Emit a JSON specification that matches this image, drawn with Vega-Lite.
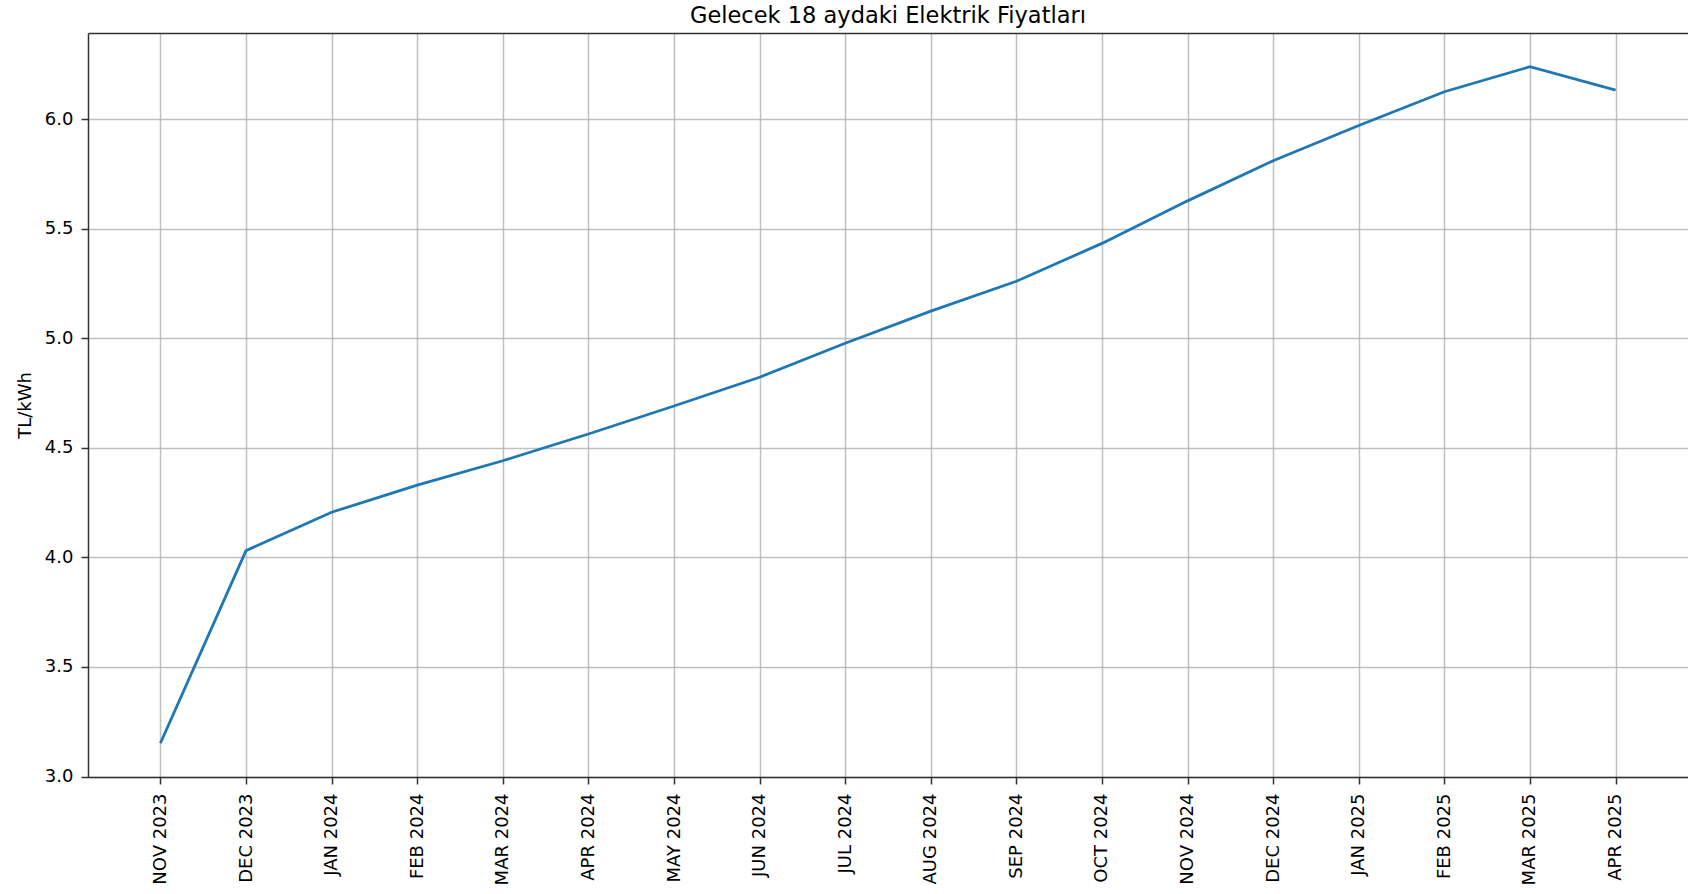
{
  "$schema": "https://vega.github.io/schema/vega-lite/v6.json",
  "autosize": {"type": "none"},
  "width": 1600,
  "height": 744,
  "padding": {"left": 88, "top": 33, "right": 0, "bottom": 117},
  "background": "white",
  "config": {
    "font": "DejaVu Sans",
    "view": {"stroke": null},
    "axis": {
      "labelFont": "DejaVu Sans",
      "titleFont": "DejaVu Sans",
      "labelFontSize": 18,
      "titleFontSize": 18,
      "labelColor": "#000000",
      "titleColor": "#000000",
      "titleFontWeight": "normal",
      "domainColor": "#333333",
      "domainWidth": 1.5,
      "tickColor": "#333333",
      "tickWidth": 1.5,
      "tickSize": 7,
      "gridColor": "#b0b0b0",
      "gridWidth": 1.5,
      "gridOpacity": 0.8
    }
  },
  "title": {
    "text": "Gelecek 18 aydaki Elektrik Fiyatları",
    "font": "DejaVu Sans",
    "fontSize": 22.5,
    "fontWeight": "normal",
    "color": "#000000",
    "anchor": "middle",
    "offset": 6
  },
  "data": {
    "values": [
      {"ay": "NOV 2023", "fiyat": 3.152},
      {"ay": "DEC 2023", "fiyat": 4.031},
      {"ay": "JAN 2024", "fiyat": 4.206},
      {"ay": "FEB 2024", "fiyat": 4.330},
      {"ay": "MAR 2024", "fiyat": 4.441},
      {"ay": "APR 2024", "fiyat": 4.563},
      {"ay": "MAY 2024", "fiyat": 4.691},
      {"ay": "JUN 2024", "fiyat": 4.822},
      {"ay": "JUL 2024", "fiyat": 4.977},
      {"ay": "AUG 2024", "fiyat": 5.124},
      {"ay": "SEP 2024", "fiyat": 5.260},
      {"ay": "OCT 2024", "fiyat": 5.433},
      {"ay": "NOV 2024", "fiyat": 5.627},
      {"ay": "DEC 2024", "fiyat": 5.810},
      {"ay": "JAN 2025", "fiyat": 5.971},
      {"ay": "FEB 2025", "fiyat": 6.125},
      {"ay": "MAR 2025", "fiyat": 6.239},
      {"ay": "APR 2025", "fiyat": 6.132}
    ]
  },
  "layer": [
    {
      "mark": {"type": "line", "color": "#1f77b4", "strokeWidth": 2.8},
      "encoding": {
        "x": {
          "field": "ay",
          "type": "ordinal",
          "sort": null,
          "scale": {"type": "point", "padding": 0.846},
          "axis": {
            "title": null,
            "orient": "bottom",
            "grid": true,
            "labelAngle": -90,
            "labelAlign": "right",
            "labelBaseline": "middle",
            "labelPadding": 9
          }
        },
        "y": {
          "field": "fiyat",
          "type": "quantitative",
          "scale": {"domain": [2.998, 6.393], "nice": false, "zero": false},
          "axis": {
            "title": "TL/kWh",
            "values": [3.0, 3.5, 4.0, 4.5, 5.0, 5.5, 6.0],
            "format": ".1f",
            "grid": true,
            "labelPadding": 8,
            "titlePadding": 10
          }
        }
      }
    },
    {
      "mark": {"type": "line", "strokeOpacity": 0},
      "encoding": {
        "x": {
          "field": "ay",
          "type": "ordinal",
          "sort": null,
          "axis": {
            "orient": "top",
            "title": null,
            "labels": false,
            "ticks": false,
            "grid": false,
            "domain": true
          }
        }
      }
    }
  ],
  "resolve": {"axis": {"x": "independent"}}
}
